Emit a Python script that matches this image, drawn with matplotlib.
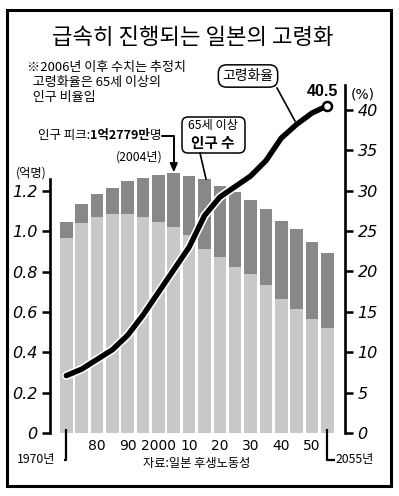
import matplotlib.pyplot as plt
import matplotlib.patheffects as pe
from matplotlib.patches import FancyBboxPatch, Rectangle
from matplotlib.transforms import blended_transform_factory

# ─── data ────────────────────────────────────────────────────────────────────
years = list(range(1970, 2060, 5))
total_pop = [1.046, 1.134, 1.184, 1.217, 1.250, 1.267, 1.279, 1.290, 1.277,
             1.259, 1.226, 1.196, 1.154, 1.110, 1.050, 1.010, 0.950, 0.895]
under65 = [0.970, 1.040, 1.070, 1.087, 1.087, 1.073, 1.049, 1.024, 0.983,
           0.913, 0.871, 0.825, 0.789, 0.734, 0.665, 0.615, 0.567, 0.521]
aging_rate = [7.1, 7.9, 9.1, 10.3, 12.1, 14.6, 17.4, 20.2, 23.0,
              26.9, 29.2, 30.5, 31.8, 33.7, 36.5, 38.2, 39.6, 40.5]
over65 = [t - u for t, u in zip(total_pop, under65)]

left_ticks = [0, 0.2, 0.4, 0.6, 0.8, 1.0, 1.2]
left_labels = ['0', '0.2', '0.4', '0.6', '0.8', '1.0', '1.2']
right_ticks = [0, 5, 10, 15, 20, 25, 30, 35, 40]
right_labels = [str(t) for t in right_ticks]
x_ticks = [1980, 1990, 2000, 2010, 2020, 2030, 2040, 2050]
x_labels = ['80', '90', '2000', '10', '20', '30', '40', '50']

KR = ['Noto Sans CJK KR', 'DejaVu Sans']
NUM = 'Liberation Sans Narrow'
LIGHT = '#c8c8c9'
DARK = '#88888a'

W, H = 399, 496
fig = plt.figure(figsize=(W / 100, H / 100), dpi=100)
inch = fig.dpi_scale_trans


def px(x, y):
    # pixel position (from top-left) -> inches for dpi_scale_trans
    return x / 100, (H - y) / 100


# ─── axes ────────────────────────────────────────────────────────────────────
ax = fig.add_axes([50 / W, 1 - 433 / H, 295 / W, 348 / H])
ax.bar(years, under65, width=4.1, color=LIGHT, zorder=2)
ax.bar(years, over65, bottom=under65, width=4.1, color=DARK, zorder=2)
ax.set_xlim(1964.7, 2060.75)
ax.set_ylim(0, 1.727)
for s in ['top', 'right', 'bottom']:
    ax.spines[s].set_visible(False)
ax.spines['left'].set_linewidth(1.9)
ax.spines['left'].set_bounds(0, 1.26)
ax.set_yticks(left_ticks, left_labels, family=NUM, style='italic',
              fontsize=11.5)
ax.tick_params(axis='y', direction='out', length=6, width=1.8, pad=3)
ax.set_xticks(x_ticks, x_labels, family=NUM, fontsize=10)
ax.tick_params(axis='x', length=0, pad=4)

ax2 = ax.twinx()
ax2.set_ylim(0, 43.07)
for s in ['top', 'left', 'bottom']:
    ax2.spines[s].set_visible(False)
ax2.spines['right'].set_linewidth(1.9)
ax2.set_yticks(right_ticks, right_labels, family=NUM, style='italic',
               fontsize=11.5)
ax2.tick_params(axis='y', direction='out', length=6, width=1.8, pad=3)

ax2.plot(years, aging_rate, color='black', lw=3.9, solid_capstyle='round',
         solid_joinstyle='round', zorder=3,
         path_effects=[pe.Stroke(linewidth=6.2, foreground='white'), pe.Normal()])
ax2.plot(years[-1:], aging_rate[-1:], 'o', ms=6.5, mfc='white', mec='black',
         mew=1.8, zorder=4)

# ─── bottom brackets for first and last year ─────────────────────────────────
bt = blended_transform_factory(ax.transData, inch)
y0, y1 = px(0, 429)[1], px(0, 460)[1]
ax.plot([years[0], years[0], years[0] - 0.8], [y0, y1, y1], color='black',
        lw=1.6, transform=bt, clip_on=False, solid_capstyle='butt')
ax.plot([years[-1], years[-1], years[-1] + 2.4], [y0, y1, y1], color='black',
        lw=1.6, transform=bt, clip_on=False, solid_capstyle='butt')
fig.text(*px(55, 460), '1970년', transform=inch, family=KR, fontsize=8.8,
         ha='right', va='center')
fig.text(*px(336, 460), '2055년', transform=inch, family=KR, fontsize=8.8,
         ha='left', va='center')
fig.text(*px(197, 464), '자료:일본 후생노동성', transform=inch, family=KR,
         fontsize=8.8, ha='center', va='center')

# ─── texts ───────────────────────────────────────────────────────────────────
fig.text(*px(193, 38), '급속히 진행되는 일본의 고령화', transform=inch, family=KR,
         fontsize=16, fontweight='medium', ha='center', va='center')
fig.text(*px(27, 61), '※2006년 이후 수치는 추정치\n  고령화율은 65세 이상의\n  인구 비율임',
         transform=inch, family=KR, fontsize=9.4, ha='left', va='top',
         linespacing=1.2)
fig.text(*px(31, 173), '(억명)', transform=inch, family=KR, fontsize=8.8,
         ha='center', va='center')
fig.text(*px(363, 94), '(%)', transform=inch, family=NUM, fontsize=10,
         ha='center', va='center')
fig.text(*px(322, 92), '40.5', transform=inch, family='Liberation Sans',
         fontsize=11.5, fontweight='bold', ha='center', va='center')

# 고령화율 box + leader
fig.text(*px(248, 76), '고령화율', transform=inch, family=KR, fontsize=10,
         ha='center', va='center',
         bbox=dict(boxstyle='round,pad=0.3,rounding_size=0.6', fc='white',
                   ec='black', lw=1.1))
fig.add_artist(plt.Line2D([px(277, 88)[0], px(295, 121)[0]],
                          [px(277, 88)[1], px(295, 121)[1]],
                          transform=inch, color='black', lw=1.2))

# 65세 이상 인구 수 box + leader
bx0, by0 = px(182, 153)
box = FancyBboxPatch((bx0, by0), 63 / 100, 36 / 100,
                     boxstyle='round,pad=0,rounding_size=0.06',
                     transform=inch, fc='white', ec='black', lw=1.1)
fig.add_artist(box)
fig.text(*px(213, 126), '65세 이상', transform=inch, family=KR, fontsize=8.8,
         ha='center', va='center')
fig.text(*px(213, 143), '인구 수', transform=inch, family=KR, fontsize=10.5,
         fontweight='bold', ha='center', va='center')
fig.add_artist(plt.Line2D([px(200, 153)[0], px(206, 179)[0]],
                          [px(200, 153)[1], px(206, 179)[1]],
                          transform=inch, color='black', lw=1.2))

# 인구 피크 label with mixed weights, built right to left
renderer = fig.canvas.get_renderer()
xr = 161
parts = [('명', 'normal'), ('1억2779만', 'bold'), ('인구 피크:', 'normal')]
for txt, wt in parts:
    t = fig.text(*px(xr, 136), txt, transform=inch, family=KR, fontsize=9,
                 fontweight=wt, ha='right', va='center')
    bb = t.get_window_extent(renderer)
    xr -= bb.width
fig.text(*px(139, 157), '(2004년)', transform=inch, family=KR, fontsize=8.8,
         ha='center', va='center')
ax.annotate('', xy=(years[7], total_pop[7]), xycoords='data',
            xytext=(162, H - 136), textcoords='figure pixels',
            arrowprops=dict(arrowstyle='-|>,head_length=0.5,head_width=0.22',
                            connectionstyle='angle,angleA=0,angleB=90,rad=0',
                            color='black', lw=1.4, shrinkA=0, shrinkB=0.5))

# frame around the whole graphic
fig.add_artist(Rectangle((0.065, 0.10), 3.84, 4.76, transform=inch,
                         fill=False, ec='black', lw=2.2))

fig.savefig('out.png', dpi=100)
